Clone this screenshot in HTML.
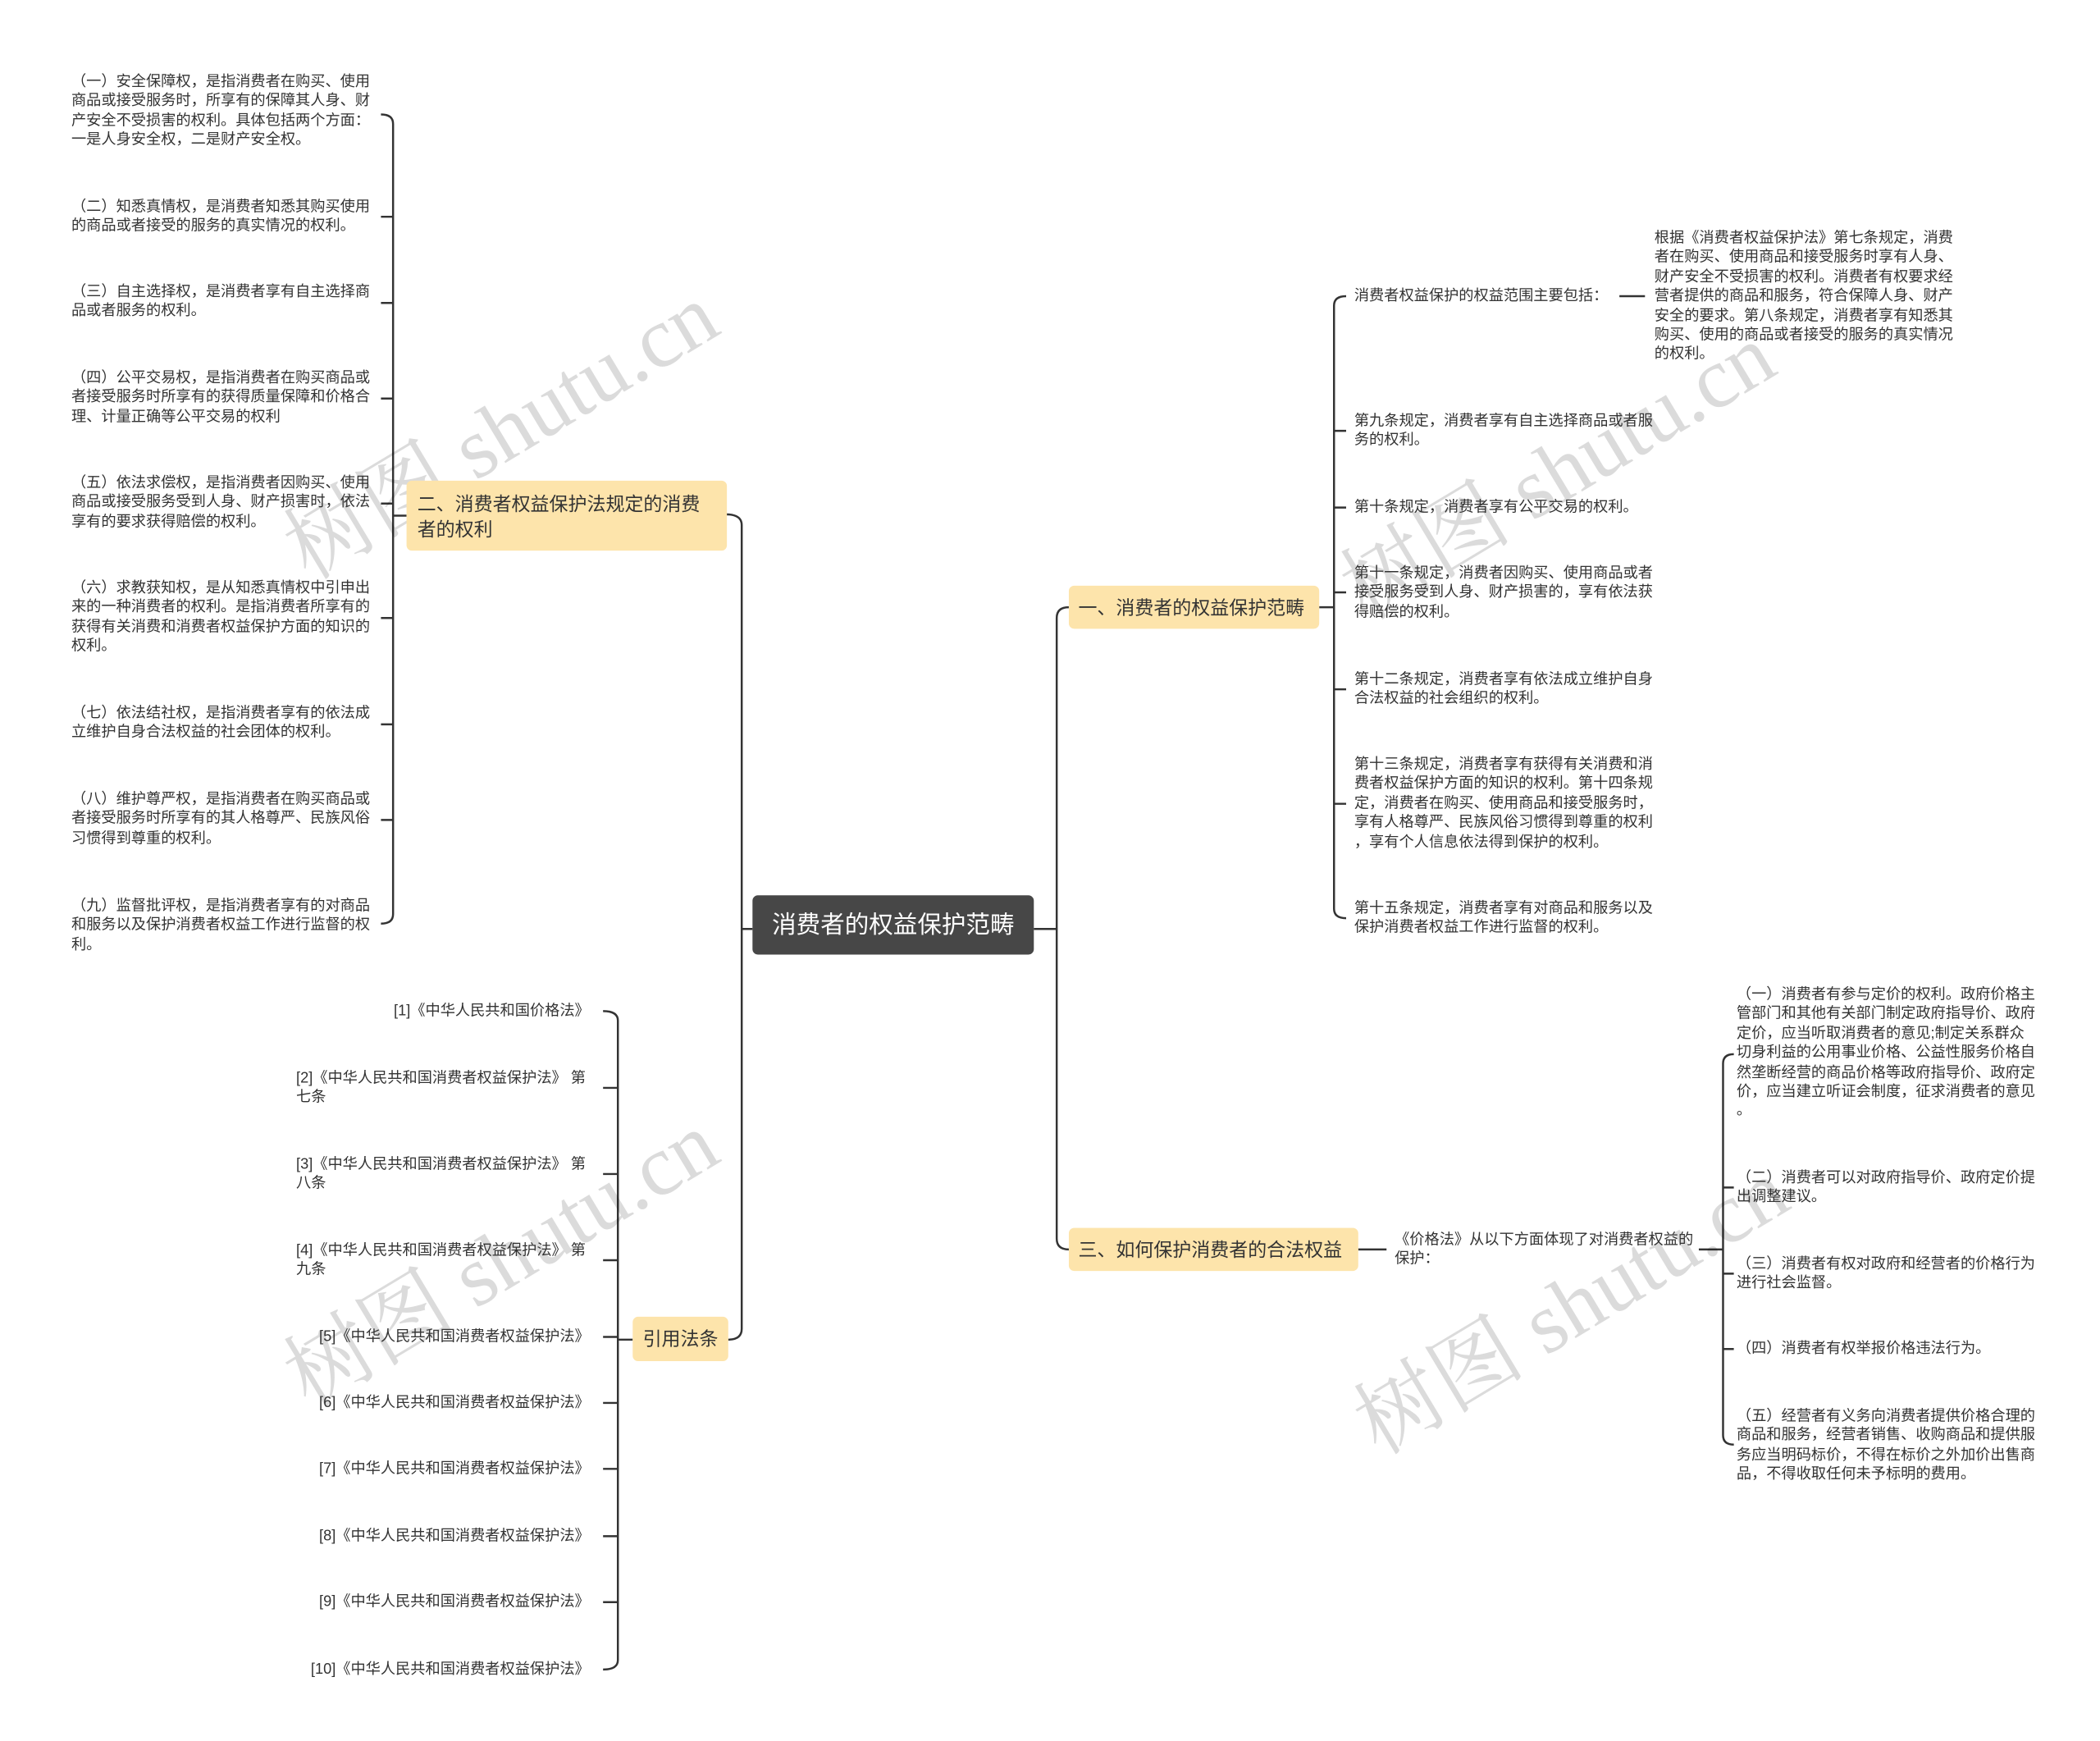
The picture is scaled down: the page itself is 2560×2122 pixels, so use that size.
<!DOCTYPE html>
<html><head><meta charset="utf-8"><style>
html,body{margin:0;padding:0;background:#fff}
#w{position:relative;width:1560px;height:1293px;transform:scale(1.6410);transform-origin:0 0;overflow:hidden;font-family:"Liberation Sans","Noto Sans CJK SC",sans-serif;color:#333}
.t{position:absolute;font-size:11.1px;line-height:14.4px;white-space:nowrap}
.r{text-align:right}
.n{position:absolute;background:#fde4ab;border-radius:4px;font-size:14px;color:#333;box-sizing:border-box}
.wm{position:absolute;font-family:"Liberation Serif","Noto Serif CJK SC",serif;font-size:64px;color:rgba(0,0,0,0.14);transform:rotate(-31deg);white-space:nowrap;transform-origin:center}
svg{position:absolute;left:0;top:0}
</style></head><body><div id="w">
<svg width="1560" height="1293" viewBox="0 0 1560 1293" fill="none" stroke="#333" stroke-width="1.5">
<path d="M283,85 Q292,85 292,92 L292,679 Q292,686 283,686"/>
<path d="M283,161H292M283,225H292M283,296H292M283,374H292M283,459H292M283,538H292M283,609H292M292,383H302"/>
<path d="M539,382 Q551,382 551,390 L551,987 Q551,995 541,995"/>
<path d="M551,690H559M768,690H785"/>
<path d="M794,451 Q785,451 785,459 L785,920 Q785,928 794,928"/>
<path d="M448,751 Q459,751 459,758 L459,1233 Q459,1240 448,1240"/>
<path d="M448,808H459M448,872H459M448,936H459M448,993H459M448,1042H459M448,1091H459M448,1141H459M448,1190H459M459,995H470"/>
<path d="M1000,220 Q991,220 991,227 L991,675 Q991,682 1000,682"/>
<path d="M980,451H991M991,320H1000M991,377H1000M991,440H1000M991,512H1000M991,597H1000M1203,220H1222"/>
<path d="M1009,928H1030M1262,928H1280"/>
<path d="M1288,783 Q1280,783 1280,790 L1280,1066 Q1280,1073 1288,1073"/>
<path d="M1280,882H1288M1280,946H1288M1280,1002H1288"/>
</svg>

<div class="wm" style="left:190px;top:270px">树图 shutu.cn</div>
<div class="wm" style="left:190px;top:885px">树图 shutu.cn</div>
<div class="wm" style="left:975px;top:300px">树图 shutu.cn</div>
<div class="wm" style="left:985px;top:920px">树图 shutu.cn</div>

<div class="t" style="left:53px;top:54px">（一）安全保障权，是指消费者在购买、使用<br>商品或接受服务时，所享有的保障其人身、财<br>产安全不受损害的权利。具体包括两个方面：<br>一是人身安全权，二是财产安全权。</div>
<div class="t" style="left:53px;top:147px">（二）知悉真情权，是消费者知悉其购买使用<br>的商品或者接受的服务的真实情况的权利。</div>
<div class="t" style="left:53px;top:210px">（三）自主选择权，是消费者享有自主选择商<br>品或者服务的权利。</div>
<div class="t" style="left:53px;top:274px">（四）公平交易权，是指消费者在购买商品或<br>者接受服务时所享有的获得质量保障和价格合<br>理、计量正确等公平交易的权利</div>
<div class="t" style="left:53px;top:352px">（五）依法求偿权，是指消费者因购买、使用<br>商品或接受服务受到人身、财产损害时，依法<br>享有的要求获得赔偿的权利。</div>
<div class="t" style="left:53px;top:430px">（六）求教获知权，是从知悉真情权中引申出<br>来的一种消费者的权利。是指消费者所享有的<br>获得有关消费和消费者权益保护方面的知识的<br>权利。</div>
<div class="t" style="left:53px;top:523px">（七）依法结社权，是指消费者享有的依法成<br>立维护自身合法权益的社会团体的权利。</div>
<div class="t" style="left:53px;top:587px">（八）维护尊严权，是指消费者在购买商品或<br>者接受服务时所享有的其人格尊严、民族风俗<br>习惯得到尊重的权利。</div>
<div class="t" style="left:53px;top:666px">（九）监督批评权，是指消费者享有的对商品<br>和服务以及保护消费者权益工作进行监督的权<br>利。</div>

<div class="n" style="left:302px;top:357px;width:238px;height:52px;padding:8px 0 0 8px;line-height:19px">二、消费者权益保护法规定的消费<br>者的权利</div>
<div class="n" style="left:470px;top:978px;width:71px;height:33px;line-height:33px;text-align:center">引用法条</div>
<div style="position:absolute;left:559px;top:665px;width:209px;height:44px;background:#474747;border-radius:4px;color:#fff;font-size:18px;line-height:44px;text-align:center">消费者的权益保护范畴</div>
<div class="n" style="left:794px;top:435px;width:186px;height:32px;line-height:32px;padding-left:7px">一、消费者的权益保护范畴</div>
<div class="n" style="left:794px;top:912px;width:215px;height:32px;line-height:32px;padding-left:7px">三、如何保护消费者的合法权益</div>

<div class="t r" style="right:1122px;top:744px">[1]《中华人民共和国价格法》</div>
<div class="t" style="left:220px;top:794px">[2]《中华人民共和国消费者权益保护法》 第<br>七条</div>
<div class="t" style="left:220px;top:858px">[3]《中华人民共和国消费者权益保护法》 第<br>八条</div>
<div class="t" style="left:220px;top:922px">[4]《中华人民共和国消费者权益保护法》 第<br>九条</div>
<div class="t r" style="right:1122px;top:986px">[5]《中华人民共和国消费者权益保护法》</div>
<div class="t r" style="right:1122px;top:1035px">[6]《中华人民共和国消费者权益保护法》</div>
<div class="t r" style="right:1122px;top:1084px">[7]《中华人民共和国消费者权益保护法》</div>
<div class="t r" style="right:1122px;top:1134px">[8]《中华人民共和国消费者权益保护法》</div>
<div class="t r" style="right:1122px;top:1183px">[9]《中华人民共和国消费者权益保护法》</div>
<div class="t r" style="right:1122px;top:1233px">[10]《中华人民共和国消费者权益保护法》</div>

<div class="t" style="left:1006px;top:213px">消费者权益保护的权益范围主要包括：</div>
<div class="t" style="left:1229px;top:170px">根据《消费者权益保护法》第七条规定，消费<br>者在购买、使用商品和接受服务时享有人身、<br>财产安全不受损害的权利。消费者有权要求经<br>营者提供的商品和服务，符合保障人身、财产<br>安全的要求。第八条规定，消费者享有知悉其<br>购买、使用的商品或者接受的服务的真实情况<br>的权利。</div>
<div class="t" style="left:1006px;top:306px">第九条规定，消费者享有自主选择商品或者服<br>务的权利。</div>
<div class="t" style="left:1006px;top:370px">第十条规定，消费者享有公平交易的权利。</div>
<div class="t" style="left:1006px;top:419px">第十一条规定，消费者因购买、使用商品或者<br>接受服务受到人身、财产损害的，享有依法获<br>得赔偿的权利。</div>
<div class="t" style="left:1006px;top:498px">第十二条规定，消费者享有依法成立维护自身<br>合法权益的社会组织的权利。</div>
<div class="t" style="left:1006px;top:561px">第十三条规定，消费者享有获得有关消费和消<br>费者权益保护方面的知识的权利。第十四条规<br>定，消费者在购买、使用商品和接受服务时，<br>享有人格尊严、民族风俗习惯得到尊重的权利<br>，享有个人信息依法得到保护的权利。</div>
<div class="t" style="left:1006px;top:668px">第十五条规定，消费者享有对商品和服务以及<br>保护消费者权益工作进行监督的权利。</div>

<div class="t" style="left:1036px;top:914px">《价格法》从以下方面体现了对消费者权益的<br>保护：</div>
<div class="t" style="left:1290px;top:732px">（一）消费者有参与定价的权利。政府价格主<br>管部门和其他有关部门制定政府指导价、政府<br>定价，应当听取消费者的意见;制定关系群众<br>切身利益的公用事业价格、公益性服务价格自<br>然垄断经营的商品价格等政府指导价、政府定<br>价，应当建立听证会制度，征求消费者的意见<br>。</div>
<div class="t" style="left:1290px;top:868px">（二）消费者可以对政府指导价、政府定价提<br>出调整建议。</div>
<div class="t" style="left:1290px;top:932px">（三）消费者有权对政府和经营者的价格行为<br>进行社会监督。</div>
<div class="t" style="left:1290px;top:995px">（四）消费者有权举报价格违法行为。</div>
<div class="t" style="left:1290px;top:1045px">（五）经营者有义务向消费者提供价格合理的<br>商品和服务，经营者销售、收购商品和提供服<br>务应当明码标价，不得在标价之外加价出售商<br>品，不得收取任何未予标明的费用。</div>
</div></body></html>
